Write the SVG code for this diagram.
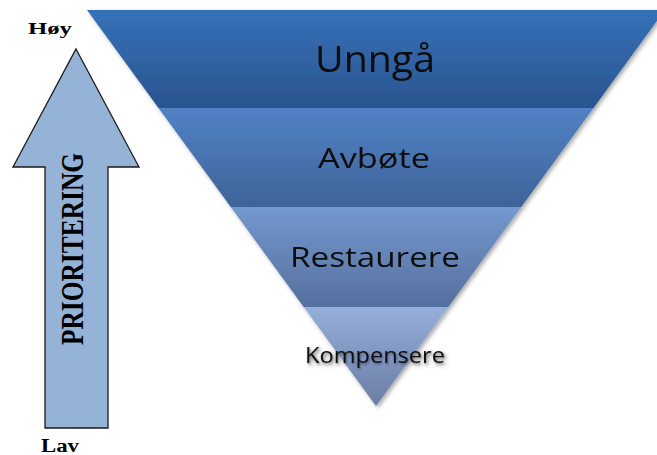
<svg xmlns="http://www.w3.org/2000/svg" width="657" height="455" viewBox="0 0 657 455">
  <defs>
    <linearGradient id="g1" x1="0" y1="0" x2="0" y2="1">
      <stop offset="0" stop-color="#3571B9"/>
      <stop offset="1" stop-color="#2B548F"/>
    </linearGradient>
    <linearGradient id="g2" x1="0" y1="0" x2="0" y2="1">
      <stop offset="0" stop-color="#5282C6"/>
      <stop offset="1" stop-color="#3D6398"/>
    </linearGradient>
    <linearGradient id="g3" x1="0" y1="0" x2="0" y2="1">
      <stop offset="0" stop-color="#7398CE"/>
      <stop offset="1" stop-color="#566F9E"/>
    </linearGradient>
    <linearGradient id="g4" x1="0" y1="0" x2="0" y2="1">
      <stop offset="0" stop-color="#95AEDA"/>
      <stop offset="1" stop-color="#6A7DA4"/>
    </linearGradient>
    <filter id="shadow" x="-10%" y="-10%" width="120%" height="120%">
      <feDropShadow dx="2" dy="2" stdDeviation="2" flood-color="#000" flood-opacity="0.35"/>
    </filter>
    <filter id="tshadow" x="-10%" y="-30%" width="120%" height="160%">
      <feDropShadow dx="1" dy="1.5" stdDeviation="1" flood-color="#000" flood-opacity="0.4"/>
    </filter>
  </defs>
  <style>
    .band { stroke: none; }
    .lbl { font-family: "Open Sans", "Liberation Sans", sans-serif; fill: #0d0d0d; text-anchor: middle; }
    .serif { font-family: "Liberation Serif", "Times New Roman", serif; font-weight: bold; fill: #000; }
    .arrow { fill: #95B3D7; stroke: #1a1a1a; stroke-width: 1.3; stroke-linejoin: miter; }
  </style>
  <rect width="657" height="455" fill="#fff"/>
  <g id="pyramid" filter="url(#shadow)">
    <g id="node-unnga">
      <polygon class="band" points="87,10 665,10 593.5,108 158.5,108" fill="url(#g1)"/>
      <text class="lbl" x="375" y="72" font-size="36" textLength="120" lengthAdjust="spacingAndGlyphs">Unngå</text>
    </g>
    <g id="node-avbote">
      <polygon class="band" points="158.5,108 593.5,108 521.2,207 230.8,207" fill="url(#g2)"/>
      <text class="lbl" x="374" y="168" font-size="28" textLength="112" lengthAdjust="spacingAndGlyphs">Avbøte</text>
    </g>
    <g id="node-restaurere">
      <polygon class="band" points="230.8,207 521.2,207 448.3,307 303.7,307" fill="url(#g3)"/>
      <text class="lbl" x="375" y="267" font-size="28" textLength="170" lengthAdjust="spacingAndGlyphs">Restaurere</text>
    </g>
    <g id="node-kompensere">
      <polygon class="band" points="303.7,307 448.3,307 376,406" fill="url(#g4)"/>
      <text class="lbl" x="375" y="363" font-size="21" textLength="140" lengthAdjust="spacingAndGlyphs" filter="url(#tshadow)">Kompensere</text>
    </g>
  </g>
  <g id="node-arrow">
    <polygon class="arrow" points="76,49 139,167 108,167 108,428 45,428 45,167 13,167"/>
    <text class="serif" font-size="25.5" transform="translate(83,345) scale(1.22,1) rotate(-90)" textLength="192" lengthAdjust="spacingAndGlyphs">PRIORITERING</text>
  </g>
  <g id="node-hoy">
    <text class="serif" x="28" y="34" font-size="17" textLength="44" lengthAdjust="spacingAndGlyphs">Høy</text>
  </g>
  <g id="node-lav">
    <text class="serif" x="41" y="452" font-size="18" textLength="38" lengthAdjust="spacingAndGlyphs">Lav</text>
  </g>
  <g id="connectors"/>
</svg>
